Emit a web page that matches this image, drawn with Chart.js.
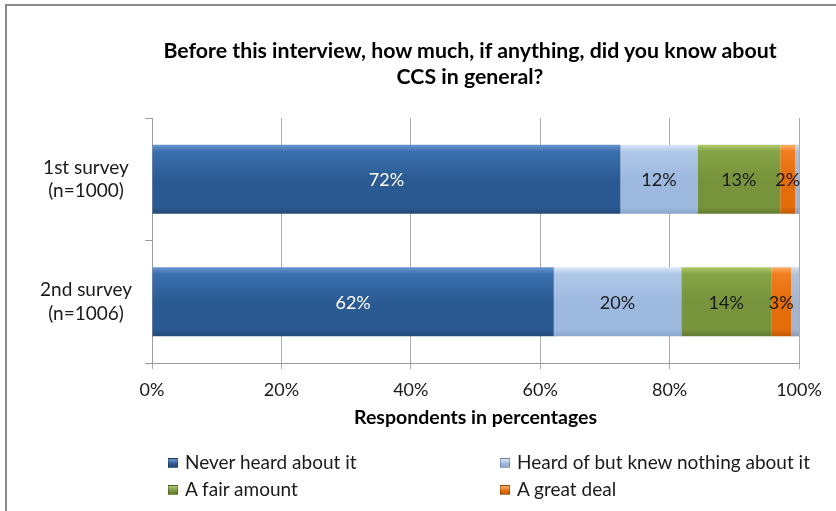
<!DOCTYPE html>
<html>
<head>
<meta charset="utf-8">
<script src="https://cdn.jsdelivr.net/npm/chart.js@4/dist/chart.umd.min.js"></script>
<style>
  html, body { margin: 0; padding: 0; width: 836px; height: 511px; overflow: hidden; background: #fff; font-family: Lato, "Open Sans", sans-serif; }
  #frame { position: absolute; left: 5px; top: 4px; width: 900px; height: 600px; border: 2px solid #8a8a8a; box-sizing: border-box; }
  #wrap { position: absolute; left: 0; top: 0; width: 836px; height: 511px; }
  #title { position: absolute; left: 70px; width: 800px; top: 37px; text-align: center; font-weight: bold; font-size: 21.3px; line-height: 26px; color: #000; }
  .leg { position: absolute; font-size: 19px; color: #1a1a1a; line-height: 20px; white-space: nowrap; }
  .leg i { display: inline-block; width: 10px; height: 10px; margin-right: 7px; vertical-align: 1px; border: 1px solid rgba(0,0,0,0.25); box-sizing: border-box; }
</style>
</head>
<body>
<div id="frame"></div>
<div id="wrap"><canvas id="c" width="836" height="511"></canvas></div>
<div id="title"></div>
<div id="legend"></div>
<script>
const titleLines = ["Before this interview, how much, if anything, did you know about", "CCS in general?"];
const categories = [["1st survey", "(n=1000)"], ["2nd survey", "(n=1006)"]];
const seriesNames = ["Never heard about it", "Heard of but knew nothing about it", "A fair amount", "A great deal", "Don't know"];
const neverHeard = [72.4, 62.1];
const heardNothing = [11.9, 19.7];
const fairAmount = [12.8, 13.9];
const greatDeal = [2.3, 3.1];
const dontKnow = [0.6, 1.2];
const xTicks = [0, 20, 40, 60, 80, 100];
const xAxisTitle = "Respondents in percentages";
const inLegend = [true, true, true, true, false];
const showValues = [true, true, true, true, false];

const palette = [
  ["#6A96CE", "#3A70AE", "#2B5A92", "#234A78"],
  ["#DCE8F7", "#AFC8E8", "#9DB9DF", "#89A6CC"],
  ["#AECB6E", "#86A446", "#77933C", "#627A30"],
  ["#FCB06C", "#F07E20", "#E46C0A", "#BF5906"],
  ["#D8E1EE", "#B4C2D6", "#A6B5CC", "#8D9CB4"]
];
const labelColors = ["#ffffff", "#1a1a1a", "#1a1a1a", "#1a1a1a", "#1a1a1a"];
const seriesValues = [neverHeard, heardNothing, fairAmount, greatDeal, dontKnow];
const FONT = 'Lato, "Open Sans", sans-serif';

document.getElementById('title').innerHTML = titleLines.join('<br>');

const BAR_PCT = 0.565;
function barFill(i) {
  return function (ctx) {
    const chart = ctx.chart;
    const ys = chart.scales && chart.scales.y;
    if (!ys || !chart.chartArea || ctx.dataIndex === undefined) return palette[i][2];
    const yc = ys.getPixelForValue(ctx.dataIndex);
    const half = (ys.height / categories.length) * BAR_PCT / 2;
    const g = chart.ctx.createLinearGradient(0, yc - half, 0, yc + half);
    g.addColorStop(0, palette[i][0]);
    g.addColorStop(0.1, palette[i][1]);
    g.addColorStop(0.5, palette[i][2]);
    g.addColorStop(0.9, palette[i][2]);
    g.addColorStop(1, palette[i][3]);
    return g;
  };
}

const datasets = seriesNames.map((name, i) => ({
  label: name,
  data: seriesValues[i],
  backgroundColor: barFill(i),
  borderColor: palette[i][3],
  borderWidth: 0,
  categoryPercentage: 1,
  barPercentage: BAR_PCT
}));

const valueLabels = {
  id: 'valueLabels',
  afterDatasetsDraw(chart) {
    const c = chart.ctx;
    c.save();
    c.font = '18px ' + FONT;
    c.textAlign = 'center';
    c.textBaseline = 'middle';
    chart.data.datasets.forEach((ds, i) => {
      if (!showValues[i]) return;
      const meta = chart.getDatasetMeta(i);
      meta.data.forEach((el, j) => {
        const p = el.getProps(['x', 'y', 'base'], true);
        const cx = (p.x + p.base) / 2;
        c.fillStyle = labelColors[i];
        c.fillText(Math.round(ds.data[j]) + '%', cx, p.y + 1);
      });
    });
    c.restore();
  }
};

new Chart(document.getElementById('c'), {
  type: 'bar',
  data: { labels: categories, datasets },
  options: {
    indexAxis: 'y',
    responsive: false,
    animation: false,
    layout: { padding: { left: 0, right: 37, top: 118, bottom: 78 } },
    plugins: { legend: { display: false }, tooltip: { enabled: false }, title: { display: false } },
    scales: {
      x: {
        stacked: true,
        min: 0, max: 100,
        afterBuildTicks(scale) { scale.ticks = xTicks.map(v => ({ value: v })); },
        afterFit(scale) { scale.height = 70; },
        ticks: { callback: v => v + '%', color: '#1a1a1a', font: { family: FONT, size: 18 }, padding: 10, maxRotation: 0 },
        grid: { color: '#ABABAB', lineWidth: 1, tickLength: 6 },
        border: { display: true, color: '#9A9A9A', width: 1 },
        title: { display: true, text: xAxisTitle, color: '#000', font: { family: FONT, size: 19.5, weight: 'bold' }, padding: { top: 4, bottom: 4 } }
      },
      y: {
        stacked: true,
        afterFit(scale) { scale.width = 152; },
        ticks: { crossAlign: 'center', color: '#1a1a1a', font: { family: FONT, size: 19, lineHeight: 1.25 }, padding: 13 },
        grid: { offset: true, drawOnChartArea: false, color: '#9A9A9A', tickLength: 7 },
        border: { display: true, color: '#9A9A9A', width: 1 }
      }
    }
  },
  plugins: [valueLabels]
});

const legendPos = [[168, 452], [500, 452], [168, 479], [500, 479]];
const legend = document.getElementById('legend');
let k = 0;
seriesNames.forEach((name, i) => {
  if (!inLegend[i]) return;
  const d = document.createElement('div');
  d.className = 'leg';
  d.style.left = legendPos[k][0] + 'px';
  d.style.top = legendPos[k][1] + 'px';
  d.innerHTML = '<i style="background:linear-gradient(' + palette[i][0] + ',' + palette[i][2] + ' 60%,' + palette[i][3] + ')"></i>' + name;
  legend.appendChild(d);
  k++;
});
</script>
</body>
</html>
